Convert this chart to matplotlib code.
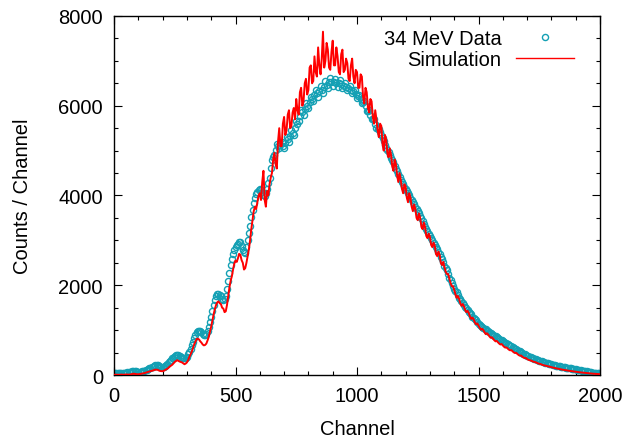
import numpy as np
import matplotlib
matplotlib.use("Agg")
import matplotlib.pyplot as plt

channel = np.arange(0, 2001, 5)

data_counts = [
    45, 52, 55, 48, 50, 47, 45, 52, 55, 50, 50, 56, 60, 68, 75, 90, 100, 95, 85, 75,
    70, 70, 75, 82, 85, 95, 105, 118, 130, 145, 160, 172, 185, 200, 215, 222, 225, 205, 185, 178,
    175, 188, 205, 230, 255, 285, 310, 340, 370, 398, 420, 440, 455, 445, 430, 405, 380, 372, 370, 388,
    410, 460, 520, 590, 660, 740, 820, 890, 950, 975, 990, 975, 950, 915, 890, 900, 920, 990, 1080, 1180,
    1300, 1430, 1560, 1670, 1760, 1800, 1810, 1790, 1750, 1700, 1680, 1700, 1760, 1920, 2100, 2280, 2450, 2590, 2700, 2790,
    2850, 2900, 2930, 2960, 2960, 2880, 2780, 2730, 2720, 2850, 3000, 3160, 3330, 3510, 3680, 3830, 3950, 4030, 4080, 4120,
    4150, 4120, 4080, 4020, 3980, 4050, 4150, 4280, 4400, 4620, 4800, 4860, 4900, 5020, 5150, 5100, 5050, 5120, 5200, 5100,
    5050, 5180, 5300, 5250, 5200, 5330, 5450, 5400, 5350, 5500, 5650, 5600, 5650, 5780, 5900, 5850, 5800, 5930, 6050, 6000,
    5950, 6080, 6200, 6150, 6100, 6230, 6350, 6280, 6200, 6330, 6450, 6360, 6280, 6420, 6550, 6470, 6400, 6520, 6620, 6530,
    6450, 6520, 6600, 6510, 6420, 6500, 6580, 6490, 6400, 6450, 6500, 6420, 6350, 6400, 6450, 6360, 6280, 6320, 6350, 6260,
    6180, 6220, 6250, 6150, 6050, 6080, 6100, 5990, 5880, 5890, 5900, 5800, 5700, 5710, 5700, 5600, 5500, 5490, 5480, 5410,
    5350, 5290, 5220, 5130, 5050, 5010, 4970, 4900, 4840, 4790, 4740, 4660, 4590, 4540, 4490, 4410, 4340, 4300, 4260, 4200,
    4140, 4100, 4060, 4000, 3940, 3900, 3860, 3800, 3740, 3700, 3660, 3600, 3540, 3490, 3430, 3360, 3290, 3250, 3210, 3150,
    3090, 3050, 3010, 2950, 2890, 2850, 2810, 2750, 2690, 2640, 2590, 2510, 2440, 2390, 2330, 2250, 2170, 2120, 2060, 1990,
    1920, 1880, 1840, 1780, 1720, 1690, 1650, 1600, 1550, 1520, 1490, 1440, 1400, 1380, 1350, 1300, 1260, 1240, 1220, 1180,
    1140, 1115, 1100, 1075, 1055, 1035, 1015, 990, 970, 955, 935, 915, 895, 875, 858, 840, 822, 805, 790, 772,
    758, 740, 724, 706, 690, 672, 656, 638, 622, 606, 590, 574, 560, 543, 527, 510, 494, 478, 463, 447,
    432, 420, 407, 395, 383, 372, 361, 350, 340, 330, 320, 310, 301, 292, 284, 276, 268, 261, 254, 247,
    240, 232, 225, 218, 211, 204, 198, 192, 186, 180, 175, 170, 165, 160, 155, 150, 145, 140, 135, 130,
    125, 120, 115, 110, 105, 100, 95, 90, 85, 80, 75, 70, 65, 60, 55, 50, 46, 42, 38, 34,
    30,
]

sim_counts = [
    5, 6, 8, 5, 4, 7, 10, 8, 6, 9, 12, 10, 8, 11, 15, 22, 30, 25, 20, 17,
    15, 20, 25, 30, 35, 42, 50, 60, 70, 78, 85, 92, 100, 110, 120, 118, 115, 100, 90, 86,
    85, 95, 110, 125, 140, 165, 190, 210, 230, 260, 290, 310, 330, 315, 300, 290, 280, 260, 240, 255,
    280, 330, 400, 460, 520, 600, 680, 740, 800, 810, 790, 750, 720, 680, 660, 670, 700, 770, 850, 960,
    1080, 1220, 1350, 1470, 1560, 1620, 1640, 1600, 1580, 1500, 1480, 1400, 1420, 1560, 1750, 1950, 2100, 2200, 2350, 2480,
    2550, 2520, 2600, 2700, 2680, 2560, 2500, 2350, 2380, 2500, 2650, 2800, 3000, 3250, 3450, 3650, 3750, 3700, 3850, 4000,
    4050, 3900, 4300, 4550, 3900, 3750, 4100, 4000, 4250, 4400, 4500, 4800, 4950, 4700, 4600, 5200, 5500, 5100, 5100, 5600,
    5750, 5350, 5450, 5800, 5900, 5500, 5550, 5850, 5950, 5700, 6150, 5900, 5800, 6300, 6400, 6000, 6100, 6500, 6600, 6250,
    6350, 6850, 6900, 6500, 6550, 7100, 6750, 6650, 7300, 6900, 6700, 7050, 7650, 6850, 7000, 7400, 7250, 6850, 6800, 7200,
    7450, 6900, 6900, 7300, 7100, 6750, 6700, 7150, 7250, 6750, 6800, 7050, 6950, 6600, 6550, 6900, 7050, 6650, 6500, 6800,
    6750, 6400, 6400, 6700, 6650, 6200, 6050, 6400, 6300, 5950, 5850, 6150, 6100, 5750, 5600, 5900, 5700, 5450, 5300, 5600,
    5550, 5150, 5000, 5350, 5250, 4950, 4850, 5050, 4900, 4650, 4550, 4800, 4700, 4450, 4300, 4500, 4350, 4150, 4050, 4250,
    4200, 3950, 3850, 4050, 3950, 3750, 3650, 3800, 3700, 3500, 3450, 3600, 3500, 3300, 3250, 3400, 3300, 3100, 3050, 3150,
    3080, 2900, 2850, 2950, 2880, 2700, 2650, 2750, 2680, 2500, 2450, 2520, 2400, 2300, 2250, 2250, 2150, 2050, 1980, 1980,
    1900, 1800, 1720, 1760, 1700, 1600, 1540, 1580, 1530, 1450, 1400, 1430, 1380, 1300, 1250, 1280, 1240, 1170, 1130, 1150,
    1100, 1050, 1010, 1030, 1000, 950, 910, 930, 900, 860, 830, 840, 810, 775, 750, 760, 730, 700, 680, 690,
    660, 630, 610, 615, 590, 565, 550, 555, 530, 505, 490, 495, 470, 445, 430, 435, 410, 390, 375, 380,
    355, 340, 330, 325, 310, 300, 290, 285, 270, 260, 250, 245, 232, 222, 215, 210, 200, 192, 186, 180,
    172, 166, 160, 154, 148, 142, 136, 130, 125, 120, 115, 110, 105, 100, 96, 92, 88, 84, 80, 76,
    72, 68, 65, 62, 58, 55, 52, 49, 46, 43, 40, 37, 35, 32, 30, 28, 26, 24, 22, 20,
    18,
]

plt.rcParams['font.family'] = ['Liberation Sans', 'DejaVu Sans']
plt.rcParams['font.size'] = 14.5

fig = plt.figure(figsize=(6.25, 4.39), dpi=100)
ax = fig.add_axes([0.1824, 0.1435, 0.7776, 0.8178])

ax.plot(channel, data_counts, linestyle='none', marker='o', markersize=4.4,
        markerfacecolor='none', markeredgecolor='#14a0b4', markeredgewidth=1.0,
        label='34 MeV Data', zorder=2)
ax.plot(channel, sim_counts, color='#ff0000', linewidth=1.4,
        label='Simulation', zorder=3)

ax.set_xlim(0, 2000)
ax.set_ylim(0, 8000)
ax.set_xticks([0, 500, 1000, 1500, 2000])
ax.set_xticks(np.arange(0, 2001, 100), minor=True)
ax.set_yticks([0, 2000, 4000, 6000, 8000])
ax.set_yticks(np.arange(0, 8001, 500), minor=True)
ax.tick_params(which='both', direction='in', top=True, right=True, width=0.8)
ax.tick_params(which='major', length=5.8, pad=8)
ax.tick_params(which='minor', length=2.9)
for s in ax.spines.values():
    s.set_linewidth(1.0)

ax.set_xlabel('Channel', labelpad=10)
ax.set_ylabel('Counts / Channel', labelpad=19)

leg = ax.legend(loc='upper right', bbox_to_anchor=(0.9465, 0.965), frameon=False,
                markerfirst=False, handlelength=2.9, handletextpad=0.7,
                borderpad=0, borderaxespad=0, labelspacing=0.12)
leg.get_lines()[1].set_linewidth(1.0)

fig.savefig('out.png', dpi=100)
